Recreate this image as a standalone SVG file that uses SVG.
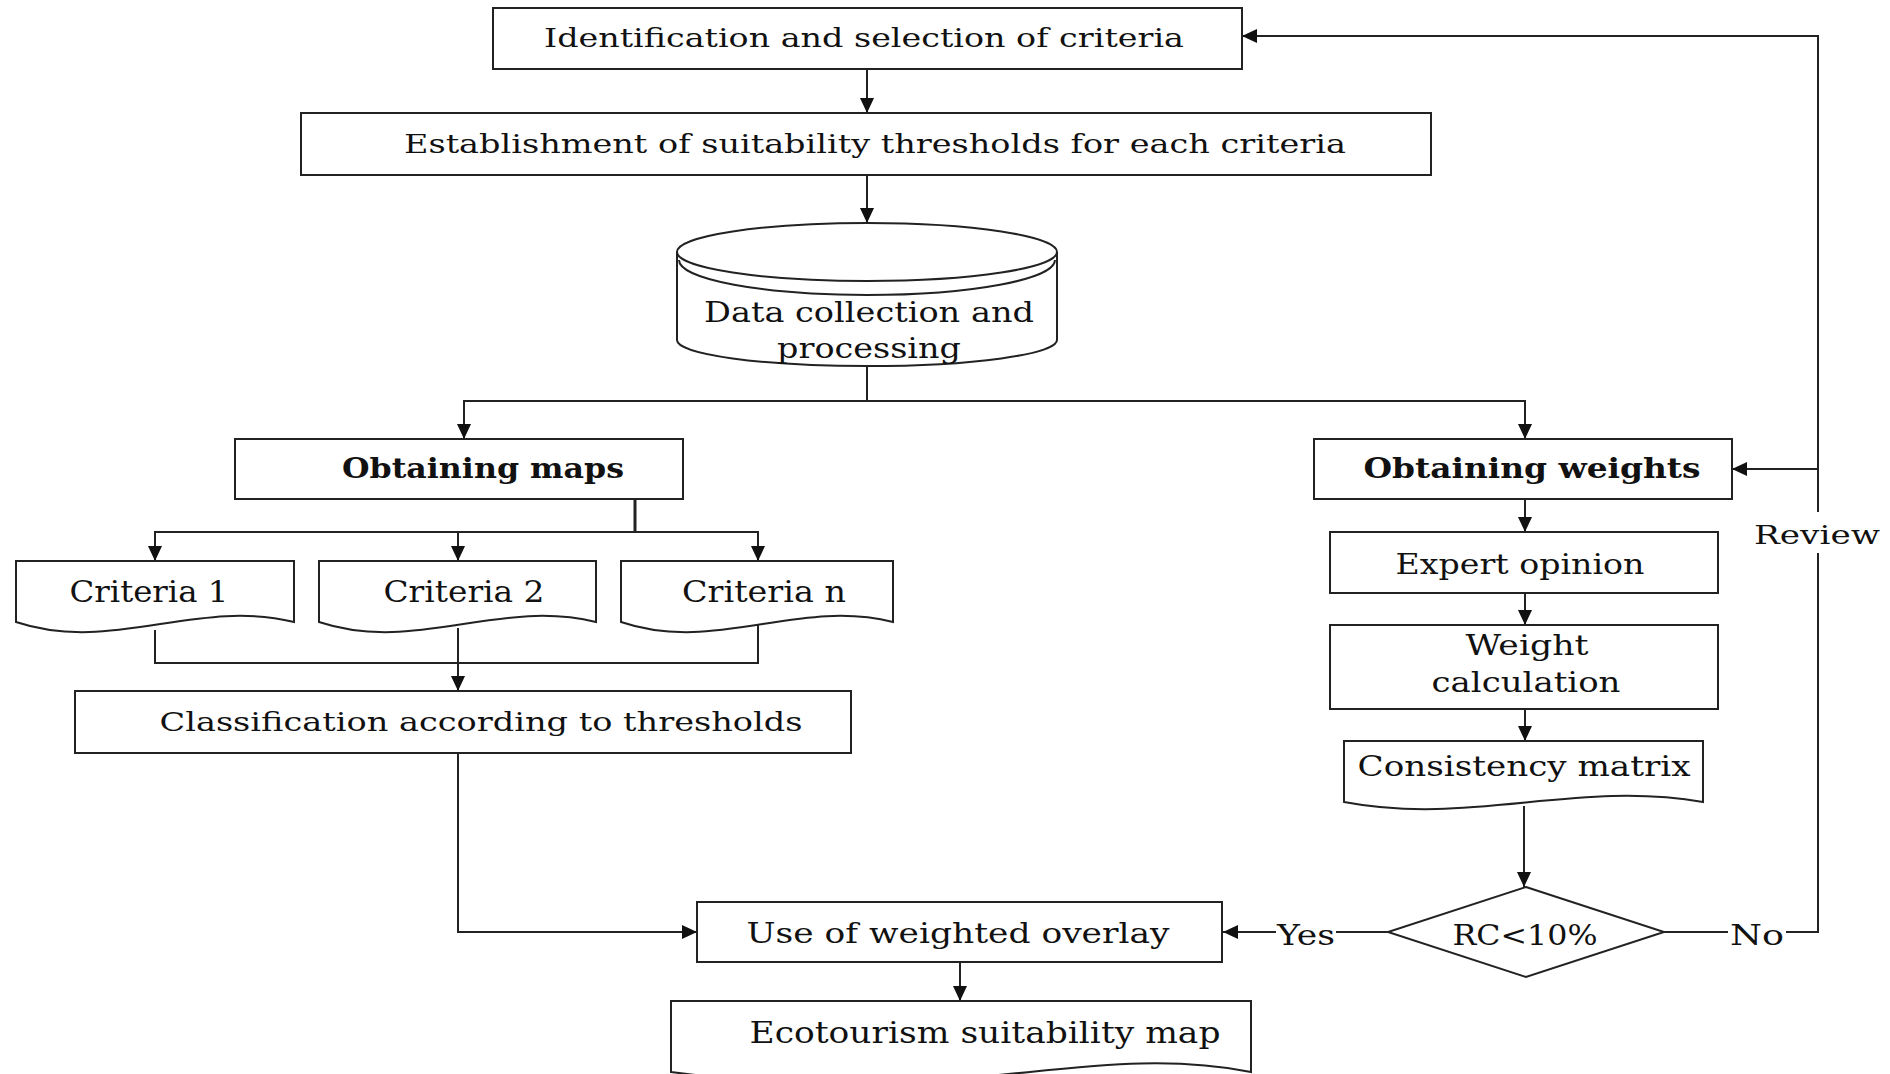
<svg xmlns="http://www.w3.org/2000/svg" width="1890" height="1074" viewBox="0 0 1890 1074">
<defs>
<marker id="arr" viewBox="0 0 15 14" refX="15" refY="7" markerWidth="15" markerHeight="14" orient="auto" markerUnits="userSpaceOnUse"><path d="M0,0 L15,7 L0,14 z" fill="#111"/></marker>
<style>
.box{fill:#fff;stroke:#222;stroke-width:2}
.ln{fill:none;stroke:#222;stroke-width:2}
.t{font-family:"DejaVu Serif","Liberation Serif",serif;font-size:26px;fill:#111;text-anchor:middle}
.b{font-weight:bold;font-size:27px}
.c{font-size:29px}
.m{font-size:27px}
</style>
</defs>
<rect width="1890" height="1074" fill="#fff"/>
<g id="connectors">
<path class="ln" d="M867,69 V113" marker-end="url(#arr)"/>
<path class="ln" d="M867,175 V223" marker-end="url(#arr)"/>
<path class="ln" d="M867,366 V401 H464 V439" marker-end="url(#arr)"/>
<path class="ln" d="M867,401 H1525 V439" marker-end="url(#arr)"/>
<path class="ln" d="M635,532 H155 V561" marker-end="url(#arr)"/>
<path class="ln" d="M635,499 V532" style="stroke-width:3"/>
<path class="ln" d="M635,532 H758 V561" marker-end="url(#arr)"/>
<path class="ln" d="M458,532 V561" marker-end="url(#arr)"/>
<path class="ln" d="M155,630 V663 H758 V622"/>
<path class="ln" d="M458,628 V691" marker-end="url(#arr)"/>
<path class="ln" d="M458,753 V932 H697" marker-end="url(#arr)"/>
<path class="ln" d="M960,962 V1001" marker-end="url(#arr)"/>
<path class="ln" d="M1525,499 V532" marker-end="url(#arr)"/>
<path class="ln" d="M1525,593 V625" marker-end="url(#arr)"/>
<path class="ln" d="M1525,709 V741" marker-end="url(#arr)"/>
<path class="ln" d="M1524,806 V887" marker-end="url(#arr)"/>
<path class="ln" d="M1388,932 H1336"/>
<path class="ln" d="M1276,932 H1223" marker-end="url(#arr)"/>
<path class="ln" d="M1664,932 H1728"/>
<path class="ln" d="M1786,932 H1818 V553"/>
<path class="ln" d="M1818,512 V36 H1242" marker-end="url(#arr)"/>
<path class="ln" d="M1818,469 H1732" marker-end="url(#arr)"/>
<text class="t m" x="1306" y="945" textLength="58" lengthAdjust="spacingAndGlyphs">Yes</text>
<text class="t m" x="1757" y="945" textLength="54" lengthAdjust="spacingAndGlyphs">No</text>
<text class="t" x="1817" y="544" textLength="126" lengthAdjust="spacingAndGlyphs">Review</text>
</g>
<g id="n1">
<rect class="box" x="493" y="8" width="749" height="61"/>
<text class="t" x="864" y="47" textLength="640" lengthAdjust="spacingAndGlyphs">Identification  and  selection  of  criteria</text>
</g>
<g id="n2">
<rect class="box" x="301" y="113" width="1130" height="62"/>
<text class="t" x="875" y="153" textLength="942" lengthAdjust="spacingAndGlyphs">Establishment  of  suitability  thresholds  for each  criteria</text>
</g>
<g id="n3">
<path class="box" d="M677,252 V340 A190,26 0 0 0 1057,340 V252"/>
<ellipse class="box" cx="867" cy="252" rx="190" ry="29"/>
<path class="ln" d="M679,260 A188,35 0 0 0 1055,260"/>
<text class="t m" x="869" y="322" textLength="330" lengthAdjust="spacingAndGlyphs">Data collection and</text>
<text class="t m" x="869" y="358" textLength="184" lengthAdjust="spacingAndGlyphs">processing</text>
</g>
<g id="n4">
<rect class="box" x="235" y="439" width="448" height="60"/>
<text class="t b" x="483" y="478" textLength="282" lengthAdjust="spacingAndGlyphs">Obtaining maps</text>
</g>
<g id="n5">
<path class="box" d="M16,561 H294 V622 C196,598 112,654 16,622 Z"/>
<text class="t c" x="149" y="602" textLength="159" lengthAdjust="spacingAndGlyphs">Criteria 1</text>
</g>
<g id="n6">
<path class="box" d="M319,561 H596 V622 C499,598 415,654 319,622 Z"/>
<text class="t c" x="464" y="602" textLength="161" lengthAdjust="spacingAndGlyphs">Criteria 2</text>
</g>
<g id="n7">
<path class="box" d="M621,561 H893 V622 C798,598 715,654 621,622 Z"/>
<text class="t c" x="764" y="602" textLength="164" lengthAdjust="spacingAndGlyphs">Criteria n</text>
</g>
<g id="n8">
<rect class="box" x="75" y="691" width="776" height="62"/>
<text class="t" x="481" y="731" textLength="643" lengthAdjust="spacingAndGlyphs">Classification  according  to  thresholds</text>
</g>
<g id="n9">
<rect class="box" x="1314" y="439" width="418" height="60"/>
<text class="t b" x="1532" y="478" textLength="337" lengthAdjust="spacingAndGlyphs">Obtaining weights</text>
</g>
<g id="n10">
<rect class="box" x="1330" y="532" width="388" height="61"/>
<text class="t m" x="1520" y="574" textLength="249" lengthAdjust="spacingAndGlyphs">Expert opinion</text>
</g>
<g id="n11">
<rect class="box" x="1330" y="625" width="388" height="84"/>
<text class="t m" x="1527" y="655" textLength="123" lengthAdjust="spacingAndGlyphs">Weight</text>
<text class="t m" x="1526" y="692" textLength="189" lengthAdjust="spacingAndGlyphs">calculation</text>
</g>
<g id="n12">
<path class="box" d="M1344,741 H1703 V802 C1576,780 1470,826 1344,802 Z"/>
<text class="t m" x="1524" y="776" textLength="333" lengthAdjust="spacingAndGlyphs">Consistency matrix</text>
</g>
<g id="n13">
<path class="box" d="M1526,887 L1664,932 L1526,977 L1388,932 Z"/>
<text class="t m" x="1525" y="945" textLength="145" lengthAdjust="spacingAndGlyphs">RC&lt;10%</text>
</g>
<g id="n14">
<rect class="box" x="697" y="902" width="525" height="60"/>
<text class="t m" x="958" y="943" textLength="423" lengthAdjust="spacingAndGlyphs">Use of weighted overlay</text>
</g>
<g id="n15">
<path class="box" d="M671,1001 H1251 V1072 C1086,1040 958,1110 671,1072 Z"/>
<text class="t c" x="985" y="1043" textLength="471" lengthAdjust="spacingAndGlyphs">Ecotourism suitability map</text>
</g>
</svg>
